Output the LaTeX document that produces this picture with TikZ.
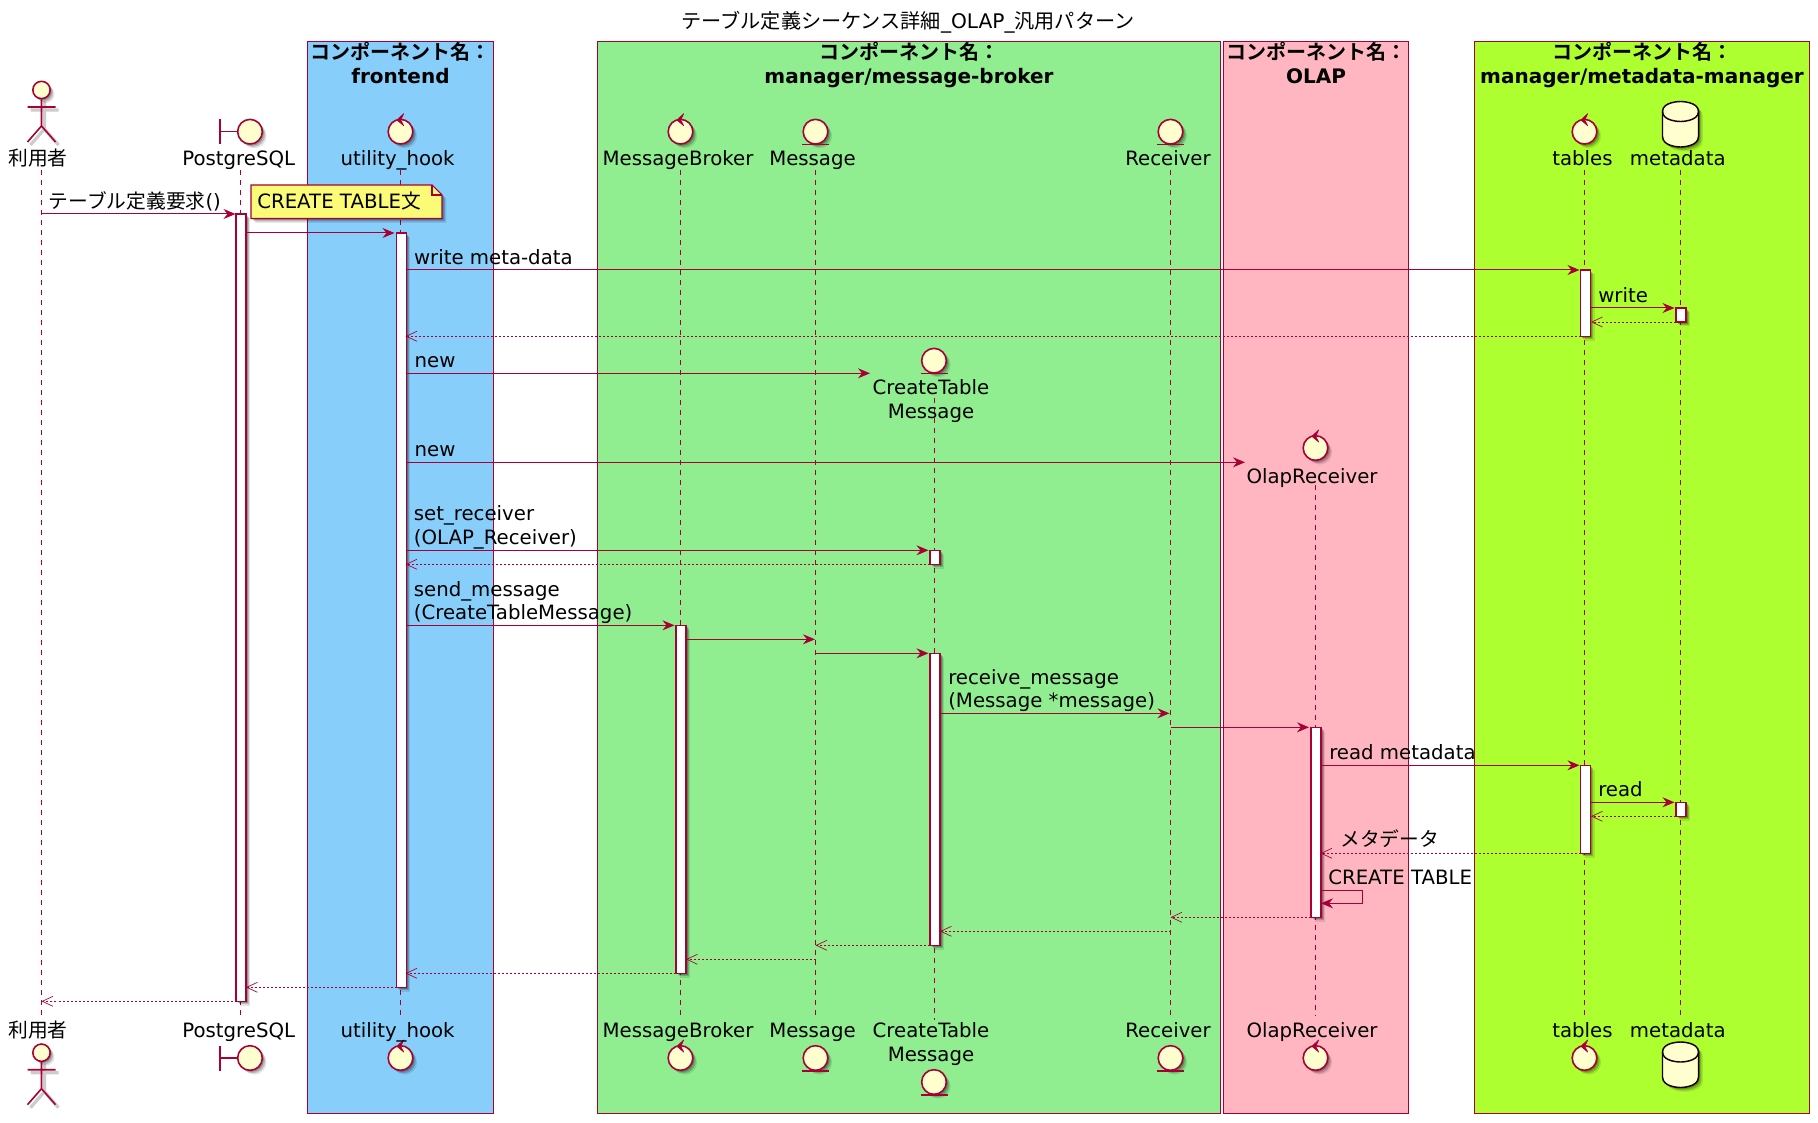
\documentclass[tikz,border=0pt]{standalone}
\usepackage{fontspec}
\setmainfont{DejaVu Sans}
\newfontfamily\cjk[BoldFont={Noto Sans CJK JP Bold}]{Noto Sans CJK JP}
\usetikzlibrary{arrows.meta,shadows}
\definecolor{pstroke}{HTML}{A80036}
\definecolor{pfill}{HTML}{FEFECE}
\definecolor{notefill}{HTML}{FBFB77}
\definecolor{bfront}{HTML}{87CEFA}
\definecolor{bbroker}{HTML}{90EE90}
\definecolor{bolap}{HTML}{FFB6C1}
\definecolor{bmeta}{HTML}{ADFF2F}
\newcommand\jp[1]{{\cjk #1}}
\tikzset{
  x=0.75pt,y=-0.75pt,
  softsh/.style={drop shadow={shadow xshift=1.2pt,shadow yshift=-1.2pt,fill=black,opacity=.22},
                 drop shadow={shadow xshift=2.2pt,shadow yshift=-2.2pt,fill=black,opacity=.18},
                 drop shadow={shadow xshift=3.2pt,shadow yshift=-3.2pt,fill=black,opacity=.10}},
  compbox/.style={draw=pstroke,line width=.7pt,inner sep=0pt,outer sep=0pt,anchor=north west},
  boxtitle/.style={font=\fontsize{15}{18}\selectfont\bfseries,align=center,inner sep=0pt,anchor=center},
  plab/.style={font=\fontsize{14.8}{18}\selectfont,inner sep=0pt,anchor=base},
  plabtwo/.style={font=\fontsize{14.8}{18}\selectfont,inner sep=0pt,anchor=south,align=center},
  mlab/.style={font=\fontsize{14.8}{18}\selectfont,inner sep=0pt,anchor=base west},
  mlabtwo/.style={font=\fontsize{14.8}{17.6}\selectfont,inner sep=0pt,anchor=south west,align=left},
  head/.style={circle,draw=pstroke,fill=pfill,line width=1.2pt,inner sep=0pt,minimum size=18.5pt,softsh},
  pline/.style={draw=pstroke,line width=1.2pt},
  life/.style={draw=pstroke,line width=.65pt,dash pattern=on 3.75pt off 3.75pt},
  actbar/.style={draw=pstroke,fill=white,line width=.9pt,inner sep=0pt,outer sep=0pt,anchor=north west,minimum width=7.5pt,softsh},
  msg/.style={draw=pstroke,line width=.75pt,-{Stealth[length=9pt,width=7.5pt,inset=3pt]},pstroke},
  ret/.style={draw=pstroke,line width=.7pt,dash pattern=on 1.5pt off 1.5pt,-{Straight Barb[length=8pt,width=7.5pt,line width=.5pt]}},
}
% component box: id, x1, y1, x2, y2, colour
\newcommand\compbox[6]{\node[compbox,fill=#6,minimum width={(#4-#2)*0.75pt},minimum height={(#5-#3)*0.75pt}] (#1) at (#2,#3) {};}
% activation bar: id, lifeline x, y1, y2
\newcommand\act[4]{\node[actbar,minimum height={(#4-#3)*0.75pt}] (#1) at (#2-4,#3) {};}
% message: style, id, x1, x2, y
\newcommand\msgline[5]{\coordinate (#2s) at (#3,#5);\coordinate (#2e) at (#4,#5);\draw[#1] (#2s) -- (#2e);}
% heads
\newcommand\pctrl[3]{\node[head] (#1) at (#2,#3) {};
  \filldraw[pstroke,line width=.5pt,line join=round] (#2+3.2,#3-18) -- (#2-3.6,#3-11.7) -- (#2+3.2,#3-6) -- (#2+.2,#3-11.7) -- cycle;}
\newcommand\pentity[3]{\node[head] (#1) at (#2,#3) {};
  \draw[pline] (#2-13.5,#3+13) -- (#2+13.5,#3+13);}
\newcommand\pbound[3]{\node[head] (#1) at (#2+10,#3) {};
  \draw[pline] (#2-20,#3-12.5) -- (#2-20,#3+12.5);
  \draw[pline] (#2-20,#3) -- (#1.west);}
\newcommand\pdb[3]{\draw[draw=black!85!pstroke,fill=pfill,line width=1.1pt,softsh]
    (#2-18,#3+10) .. controls (#2-18,#3) and (#2,#3) .. (#2,#3) .. controls (#2,#3) and (#2+18,#3) .. (#2+18,#3+10)
    -- (#2+18,#3+35) .. controls (#2+18,#3+45.5) and (#2,#3+45.5) .. (#2,#3+45.5) .. controls (#2,#3+45.5) and (#2-18,#3+45.5) .. (#2-18,#3+35) -- cycle;
  \draw[draw=black!85!pstroke,line width=1.1pt]
    (#2-18,#3+10) .. controls (#2-18,#3+20) and (#2,#3+20) .. (#2,#3+20) .. controls (#2,#3+20) and (#2+18,#3+20) .. (#2+18,#3+10);
  \coordinate (#1) at (#2,#3);}
\newcommand\pactor[3]{%
  \begin{scope}[shift={(3,3)}]
  \draw[black!20,line width=2.4pt] (#2-14,#3+17) -- (#2+14,#3+17) (#2,#3+8) -- (#2,#3+36) (#2-14,#3+52) -- (#2,#3+36) -- (#2+14,#3+52);
  \end{scope}
  \node[head,minimum size=13pt] (#1) at (#2,#3) {};
  \draw[pline] (#1.south) -- (#2,#3+36) (#2-14,#3+52) -- (#2,#3+36) -- (#2+14,#3+52) (#2-14,#3+17) -- (#2+14,#3+17);}
\begin{document}
\begin{tikzpicture}
\useasboundingbox (0,0) rectangle (1818,1123);
\fill[white] (0,0) rectangle (1818,1123);

\node[plab,font=\fontsize{15.1}{18}\selectfont] (title) at (908,28.5) {\jp{テーブル定義シーケンス詳細}\_OLAP\_\jp{汎用パターン}};

% component boxes
\compbox{bxfront}{307.3}{41.5}{493.5}{1113}{bfront}
\compbox{bxbroker}{597.2}{41.5}{1220.5}{1113}{bbroker}
\compbox{bxolap}{1223}{41.5}{1408.5}{1113}{bolap}
\compbox{bxmeta}{1474.5}{41.5}{1809.5}{1113}{bmeta}
\node[boxtitle] (tfront) at (400.5,65) {\jp{コンポーネント名：}\\frontend\vphantom{g}};
\node[boxtitle] (tbroker) at (909,65) {\jp{コンポーネント名：}\\manager/message-broker};
\node[boxtitle] (tolap) at (1316,65) {\jp{コンポーネント名：}\\OLAP\vphantom{g}};
\node[boxtitle] (tmeta) at (1642,65) {\jp{コンポーネント名：}\\manager/metadata-manager};

% lifelines
\coordinate (Lu0) at (41.5,170);\coordinate (Lu1) at (41.5,1016);
\coordinate (Lp0) at (240,170);\coordinate (Lp1) at (240,1016);
\coordinate (Lh0) at (400.5,170);\coordinate (Lh1) at (400.5,1016);
\coordinate (Lb0) at (680.5,170);\coordinate (Lb1) at (680.5,1016);
\coordinate (Lm0) at (815.5,170);\coordinate (Lm1) at (815.5,1016);
\coordinate (Lc0) at (934,398);\coordinate (Lc1) at (934,1020);
\coordinate (Lr0) at (1170.5,170);\coordinate (Lr1) at (1170.5,1016);
\coordinate (Lo0) at (1315.5,485);\coordinate (Lo1) at (1315.5,1016);
\coordinate (Lt0) at (1584.5,170);\coordinate (Lt1) at (1584.5,1016);
\coordinate (Ld0) at (1680,170);\coordinate (Ld1) at (1680,1016);
\foreach \n in {u,p,h,b,m,c,r,o,t,d} \draw[life] (L\n0) -- (L\n1);

% activations
\act{apg}{240}{214}{1001.3}
\act{ahook}{400.2}{233}{987.3}
\act{atb1}{1584.5}{270}{336.3}
\act{amd1}{1680}{308}{322}
\act{act1}{934}{550.3}{564.3}
\act{amb}{680}{625.3}{973.3}
\act{act2}{934}{653.3}{945.3}
\act{aol}{1315}{727.3}{917.3}
\act{atb2}{1584.5}{765.3}{853.3}
\act{amd2}{1680}{802.3}{816.3}

% heads, top
\pactor{uTop}{41.5}{90}
\pbound{pTop}{240}{131.7}
\pctrl{hTop}{400.5}{131.7}
\pctrl{bTop}{680.5}{131.7}
\pentity{mTop}{815.5}{131.7}
\pentity{cTop}{934}{360.7}
\pentity{rTop}{1170.5}{131.7}
\pctrl{oTop}{1315.5}{448}
\pctrl{tTop}{1584.5}{131.7}
\pdb{dTop}{1680.5}{101.5}
% heads, bottom
\pactor{uBot}{41.5}{1052.7}
\pbound{pBot}{240}{1058}
\pctrl{hBot}{400.5}{1058}
\pctrl{bBot}{680.5}{1058}
\pentity{mBot}{815.5}{1058}
\pentity{cBot}{934}{1082}
\pentity{rBot}{1170.5}{1058}
\pctrl{oBot}{1315.5}{1058}
\pctrl{tBot}{1584.5}{1058}
\pdb{dBot}{1680.5}{1042}

% participant labels, top
\node[plab] (luT) at (38,165.7) {\jp{利用者}};
\node[plab] (lpT) at (238.7,165.7) {PostgreSQL};
\node[plab] (lhT) at (397.6,165.7) {utility\_hook};
\node[plab] (lbT) at (678,165.7) {MessageBroker};
\node[plab] (lmT) at (812.5,165.7) {Message};
\node[plabtwo] (lcT) at (931,423) {CreateTable\\Message};
\node[plab] (lrT) at (1168,165.7) {Receiver};
\node[plab] (loT) at (1312,483) {OlapReceiver};
\node[plab] (ltT) at (1582.4,165.7) {tables};
\node[plab] (ldT) at (1677.8,165.7) {metadata};
% participant labels, bottom
\node[plab] (luB) at (38,1037) {\jp{利用者}};
\node[plab] (lpB) at (238.7,1037) {PostgreSQL};
\node[plab] (lhB) at (397.6,1037) {utility\_hook};
\node[plab] (lbB) at (678,1037) {MessageBroker};
\node[plab] (lmB) at (812.5,1037) {Message};
\node[plabtwo] (lcB) at (931,1065.4) {CreateTable\\Message};
\node[plab] (lrB) at (1168,1037) {Receiver};
\node[plab] (loB) at (1312,1037) {OlapReceiver};
\node[plab] (ltB) at (1582.4,1037) {tables};
\node[plab] (ldB) at (1677.8,1037) {metadata};

% note
\draw[draw=pstroke,fill=notefill,line width=.8pt,softsh] (251,185) -- (432,185) -- (442,195) -- (442,218.5) -- (251,218.5) -- cycle;
\draw[draw=pstroke,line width=.8pt] (432,185) -- (432,195) -- (442,195);
\node[mlab] (noteT) at (257,209) {CREATE TABLE\jp{文}};

% messages
\msgline{msg}{a}{41.5}{235.5}{214}
\msgline{msg}{b}{246}{394.5}{233}
\msgline{msg}{c}{406}{1579.5}{270}
\msgline{msg}{d}{1591}{1674.5}{308}
\msgline{ret}{e}{1675.5}{1591}{322}
\msgline{ret}{f}{1580.5}{405.5}{336.3}
\msgline{msg}{g}{406}{870}{373.3}
\msgline{msg}{h}{406}{1245}{462.3}
\msgline{msg}{i}{406}{928.5}{550.3}
\msgline{ret}{j}{930}{405.5}{564.3}
\msgline{msg}{k}{406}{674.5}{625.3}
\msgline{msg}{l}{686}{815}{639.3}
\msgline{msg}{m}{815.5}{928.5}{653.3}
\msgline{msg}{n}{940}{1169.5}{713.3}
\msgline{msg}{o}{1170.5}{1309}{727.3}
\msgline{msg}{p}{1321}{1579.5}{765.3}
\msgline{msg}{q}{1591}{1674.5}{802.3}
\msgline{ret}{r}{1675.5}{1591}{816.3}
\msgline{ret}{s}{1580.5}{1320.5}{853.3}
\coordinate (selfA) at (1321,890.3);\coordinate (selfB) at (1362.5,890.3);
\coordinate (selfC) at (1362.5,903.3);\coordinate (selfD) at (1321,903.3);
\draw[msg] (selfA) -- (selfB) -- (selfC) -- (selfD);
\msgline{ret}{u}{1311}{1170.5}{917.3}
\msgline{ret}{v}{1170.5}{940}{931.3}
\msgline{ret}{w}{929.5}{815.5}{945.3}
\msgline{ret}{x}{815.5}{686}{959.3}
\msgline{ret}{y}{675.5}{405.5}{973.3}
\msgline{ret}{z}{396.5}{246}{987.3}
\msgline{ret}{aa}{236.5}{41.5}{1001.3}

% message labels
\node[mlab] (ta) at (48.6,208.7) {\jp{テーブル定義要求}()};
\node[mlab] (tc) at (413.8,264.7) {write meta-data};
\node[mlab] (td) at (1598,302.7) {write};
\node[mlab] (tg) at (414.4,367.3) {new};
\node[mlab] (th) at (414.4,456.3) {new};
\node[mlabtwo] (ti) at (413.6,549) {set\_receiver\\(OLAP\_Receiver)};
\node[mlabtwo] (tk) at (413.6,624) {send\_message\\(CreateTableMessage)};
\node[mlabtwo] (tn) at (948,712) {receive\_message\\(Message *message)};
\node[mlab] (tp) at (1329,759.3) {read metadata};
\node[mlab] (tq) at (1598,796.3) {read};
\node[mlab] (ts) at (1340,846.7) {\jp{メタデータ}};
\node[mlab] (tself) at (1328,884) {CREATE TABLE};
\end{tikzpicture}
\end{document}
